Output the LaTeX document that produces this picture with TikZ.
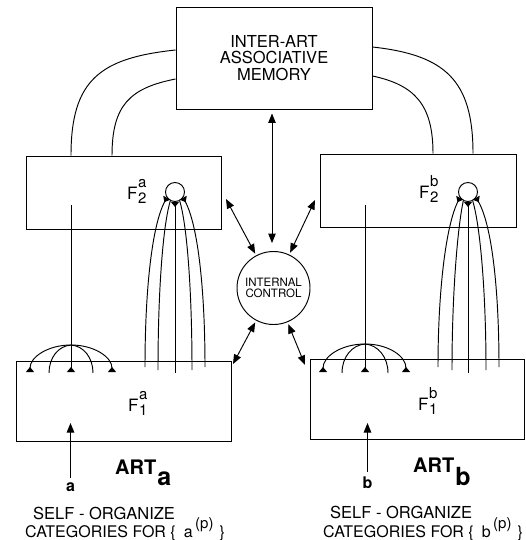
\documentclass[tikz,border=0pt]{standalone}
\usepackage{fontspec}
\setmainfont{TeX Gyre Heros}
\usetikzlibrary{arrows.meta}
\newcommand{\Flab}[2]{F\kern0.5pt\makebox[0pt][l]{\raisebox{12pt}{\fontsize{15}{15}\selectfont #1}}\raisebox{-4.5pt}{\fontsize{15}{15}\selectfont #2}}
\newcommand{\setsz}[1]{\fontsize{#1}{#1}\selectfont}
\tikzset{
  ln/.style={line width=0.95pt},
  box/.style={draw, line width=0.95pt, inner sep=0pt},
  biarrow/.style={ln, <->},
  inarrow/.style={ln, ->},
  knob/.style={ln, -{Triangle[reversed,length=5pt,width=8pt]}},
  lab/.style={anchor=base west, inner sep=0pt},
}
\begin{document}
\begin{tikzpicture}[x=1pt,y=-1pt, >={Triangle[length=9.5pt,width=7.5pt]}]
\useasboundingbox[fill=white] (0,0) rectangle (526,540);

% boxes
\node[box, minimum width=196pt, minimum height=102pt, align=center, font=\setsz{16.5}] (mem) at (274,58) {INTER-ART\\ASSOCIATIVE\\MEMORY};
\node[box, minimum width=195pt, minimum height=73pt] (F2a) at (123.5,192.5) {};
\node[box, minimum width=196pt, minimum height=73pt] (F2b) at (418,190.5) {};
\node[box, minimum width=215pt, minimum height=80pt] (F1a) at (123.5,401) {};
\node[box, minimum width=214pt, minimum height=80pt] (F1b) at (417,399) {};
\node[circle, draw, ln, minimum size=73pt, inner sep=0pt, align=center, font=\setsz{11.5}] (ic) at (273.5,288) {INTERNAL\\CONTROL};
\node[circle, draw, ln, minimum size=19pt, inner sep=0pt] (ca) at (175,192) {};
\node[circle, draw, ln, minimum size=19pt, inner sep=0pt] (cb) at (468,192) {};

% layer labels
\node[lab, font=\setsz{17}] (l2a) at (127,199) {\Flab{a}{2}};
\node[lab, font=\setsz{17}] (l2b) at (419,198) {\Flab{b}{2}};
\node[lab, font=\setsz{17}] (l1a) at (128,411) {\Flab{a}{1}};
\node[lab, font=\setsz{17}] (l1b) at (418,410) {\Flab{b}{1}};

% ART labels
\node[lab, font=\setsz{20}\bfseries] (arta) at (115,474) {ART\kern1pt\raisebox{-11pt}{\setsz{25}a}};
\node[lab, font=\setsz{20}\bfseries] (artb) at (413,472) {ART\kern1pt\raisebox{-13pt}{\setsz{25}b}};

% inputs
\node[anchor=base, inner sep=0pt, font=\setsz{16}\bfseries] (ina) at (70.5,491) {a};
\node[anchor=base, inner sep=0pt, font=\setsz{16}\bfseries] (inb) at (367.5,488) {b};
\coordinate (ta) at (70.5,423);
\coordinate (tb) at (367.5,423);
\draw[inarrow, shorten <=4pt] (ina.north) -- (ta);
\draw[inarrow, shorten <=4pt] (inb.north) -- (tb);

% bottom texts
\node[lab, font=\setsz{16.5}] (sa1) at (33,519) {SELF - ORGANIZE};
\node[lab, font=\setsz{16}] (sa2) at (25,537) {CATEGORIES FOR \{\hspace{8pt}a\hspace{2.5pt}\raisebox{9pt}{\setsz{15}(p)}\hspace{6pt}\}};
\node[lab, font=\setsz{16.5}] (sb1) at (330,518) {SELF - ORGANIZE};
\node[lab, font=\setsz{16}] (sb2) at (323,537) {CATEGORIES FOR \{\hspace{8pt}b\hspace{2.5pt}\raisebox{9pt}{\setsz{15}(p)}\hspace{6pt}\}};

% memory to F2 connections
\draw[ln] (mem.west |- 0,50) .. controls (100,58) and (71,80) .. (F2a.north -| 71,0);
\draw[ln] (mem.west |- 0,79) .. controls (130,88) and (112,105) .. (F2a.north -| 112,0);
\draw[ln] (mem.east |- 0,47) .. controls (445,55) and (473,80) .. (F2b.north -| 473,0);
\draw[ln] (mem.east |- 0,76) .. controls (415,85) and (433,105) .. (F2b.north -| 433,0);

% internal control arrows
\coordinate (p2a) at (226,199);
\coordinate (p2b) at (315,200);
\coordinate (p1a) at (233,364);
\coordinate (p1b) at (305,365);
\draw[biarrow, shorten <=4pt, shorten >=8pt] (mem.south -| 272,0) -- (ic.north -| 272,0);
\draw[biarrow, shorten >=2pt] (p2a) -- (ic);
\draw[biarrow, shorten >=2pt] (p2b) -- (ic);
\draw[biarrow, shorten >=2pt] (p1a) -- (ic);
\draw[biarrow, shorten >=2pt] (p1b) -- (ic);

% bottom-up fan ART_a
\coordinate (fa1) at (145,367);
\coordinate (fa2) at (158,370);
\coordinate (fa3) at (175,373);
\coordinate (fa4) at (192,370);
\coordinate (fa5) at (205,367);
\draw[knob] (fa1) .. controls (145,290) and (152,225) .. (ca.-145);
\draw[ln] (fa2) .. controls (158,290) and (163,225) .. (ca.-118);
\draw[knob] (fa3) -- (ca.south);
\draw[ln] (fa4) .. controls (192,290) and (187,225) .. (ca.-62);
\draw[knob] (fa5) .. controls (205,290) and (198,225) .. (ca.-35);

% bottom-up fan ART_b
\coordinate (fb1) at (438,367);
\coordinate (fb2) at (452,370);
\coordinate (fb3) at (468,373);
\coordinate (fb4) at (486,370);
\coordinate (fb5) at (499,367);
\draw[knob] (fb1) .. controls (438,290) and (446,225) .. (cb.-145);
\draw[ln] (fb2) .. controls (452,290) and (458,225) .. (cb.-118);
\draw[knob] (fb3) -- (cb.south);
\draw[ln] (fb4) .. controls (486,290) and (480,225) .. (cb.-62);
\draw[knob] (fb5) .. controls (499,290) and (492,225) .. (cb.-35);

% top-down fan ART_a
\coordinate (va) at (71,205);
\coordinate (apa) at (71,345);
\coordinate (ea1) at (30,372);
\coordinate (ea2) at (49,373);
\coordinate (ea3) at (71,372);
\coordinate (ea4) at (93,373);
\coordinate (ea5) at (112,372);
\draw[knob] (va) -- (ea3);
\draw[knob] (apa) .. controls (48,345) and (30,357) .. (ea1);
\draw[ln] (apa) .. controls (58,346) and (49,358) .. (ea2);
\draw[ln] (apa) .. controls (84,346) and (93,358) .. (ea4);
\draw[knob] (apa) .. controls (94,345) and (112,357) .. (ea5);

% top-down fan ART_b
\coordinate (vb) at (365,205);
\coordinate (apb) at (365,344);
\coordinate (eb1) at (323,372);
\coordinate (eb2) at (342,373);
\coordinate (eb3) at (365,372);
\coordinate (eb4) at (388,373);
\coordinate (eb5) at (406,372);
\draw[knob] (vb) -- (eb3);
\draw[knob] (apb) .. controls (342,344) and (323,356) .. (eb1);
\draw[ln] (apb) .. controls (352,345) and (342,357) .. (eb2);
\draw[ln] (apb) .. controls (378,345) and (388,357) .. (eb4);
\draw[knob] (apb) .. controls (388,344) and (406,356) .. (eb5);
\end{tikzpicture}
\end{document}
